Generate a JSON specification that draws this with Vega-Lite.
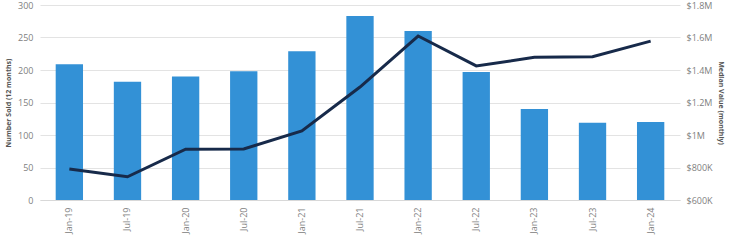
{
  "$schema": "https://vega.github.io/schema/vega-lite/v6.json",
  "autosize": {"type": "none"},
  "padding": {"left": 40, "top": 5, "right": 49, "bottom": 43},
  "width": 640,
  "height": 195,
  "config": {
    "font": "Open Sans",
    "view": {"stroke": null},
    "axis": {"labelColor": "#808080", "labelFontSize": 9, "titleColor": "#555555", "titleFontSize": 7, "titleFontWeight": "bold", "gridColor": "#e3e3e3", "domain": false, "ticks": false}
  },
  "data": {
    "values": [
      {"period": "Jan-19", "sold": 209, "median": 791000},
      {"period": "Jul-19", "sold": 182, "median": 743000},
      {"period": "Jan-20", "sold": 190, "median": 913000},
      {"period": "Jul-20", "sold": 198, "median": 914000},
      {"period": "Jan-21", "sold": 229, "median": 1025000},
      {"period": "Jul-21", "sold": 283, "median": 1295000},
      {"period": "Jan-22", "sold": 260, "median": 1609000},
      {"period": "Jul-22", "sold": 197, "median": 1425000},
      {"period": "Jan-23", "sold": 140, "median": 1478000},
      {"period": "Jul-23", "sold": 119, "median": 1482000},
      {"period": "Jan-24", "sold": 120, "median": 1578000}
    ]
  },
  "encoding": {
    "x": {"field": "period", "type": "ordinal", "sort": null, "scale": {"paddingInner": 0.53, "paddingOuter": 0.27},
      "axis": {"title": null, "labelAngle": -90, "grid": false, "domain": true, "domainColor": "#d8d8d8", "labelPadding": 7, "labelBaseline": "middle"}}
  },
  "layer": [
    {
      "mark": {"type": "bar", "color": "#3391d6"},
      "encoding": {
        "y": {"field": "sold", "type": "quantitative", "scale": {"domain": [0, 300]},
          "axis": {"title": "Number Sold (12 months)", "values": [0, 50, 100, 150, 200, 250, 300], "labelPadding": 7, "titlePadding": 6}}
      }
    },
    {
      "mark": {"type": "line", "color": "#172a4a", "strokeWidth": 3},
      "encoding": {
        "y": {"field": "median", "type": "quantitative", "scale": {"domain": [600000, 1800000], "zero": false},
          "axis": {"title": "Median Value (monthly)", "orient": "right", "grid": false, "values": [600000, 800000, 1000000, 1200000, 1400000, 1600000, 1800000],
            "labelExpr": "datum.value >= 1000000 ? '$' + format(datum.value/1000000, '~g') + 'M' : '$' + format(datum.value/1000, '~g') + 'K'", "labelPadding": 6, "titlePadding": 5}}
      }
    }
  ],
  "resolve": {"scale": {"y": "independent"}}
}
